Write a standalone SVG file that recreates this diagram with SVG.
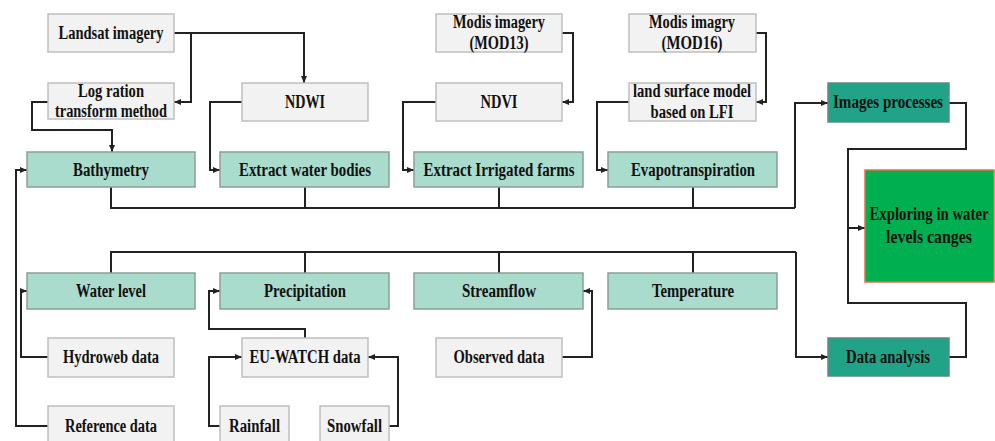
<svg xmlns="http://www.w3.org/2000/svg" width="995" height="441" viewBox="0 0 995 441">
<defs>
<marker id="ah" markerUnits="userSpaceOnUse" markerWidth="8" markerHeight="8" refX="7" refY="4" orient="auto">
<path d="M0,1 L7,4 L0,7 Z" fill="#222"/>
</marker>
<style>
.g{fill:#f2f2f2;stroke:#bfbfbf;stroke-width:1.5}
.t{fill:#a9dccd;stroke:#8a9e98;stroke-width:1.5}
.d{fill:#20a386;stroke:#5f8a7e;stroke-width:1.5}
.x{fill:#00b050;stroke:#e0704a;stroke-width:1.5}
text{font-family:"Liberation Serif","Times New Roman",serif;font-weight:bold;font-size:18px;fill:#111;text-anchor:middle}
.c path{fill:none;stroke:#222;stroke-width:2}
.a{marker-end:url(#ah)}
</style>
</defs>
<rect width="995" height="441" fill="#fff"/>
<g class="c" id="connectors">
<path class="a" d="M174,33 H304 V83"/>
<path class="a" d="M191,33 V102 H174"/>
<path class="a" d="M48,102 H32 V130 H112 V152"/>
<path class="a" d="M242,102 H210 V170 H220"/>
<path class="a" d="M562,33 H573 V102 H562"/>
<path class="a" d="M756,33 H766 V102 H756"/>
<path class="a" d="M436,102 H403 V170 H414"/>
<path class="a" d="M629,102 H597 V170 H608"/>
<path d="M111,187 V208 H795"/>
<path d="M305,187 V208"/>
<path d="M499,187 V208"/>
<path d="M693,187 V208"/>
<path class="a" d="M795,208 V103 H828"/>
<path d="M949,103 H966 V149 H848 V303 H966 V357 H949"/>
<path class="a" d="M848,228 H865"/>
<path d="M111,273 V252 H796"/>
<path d="M305,273 V252"/>
<path d="M499,273 V252"/>
<path d="M693,273 V252"/>
<path class="a" d="M796,252 V357 H828"/>
<path class="a" d="M48,357 H21 V291 H27"/>
<path class="a" d="M48,426 H16 V170 H27"/>
<path class="a" d="M305,338 V329 H209 V291 H220"/>
<path class="a" d="M220,426 H209 V357 H242"/>
<path class="a" d="M389,426 H398 V357 H368"/>
<path class="a" d="M562,357 H592 V291 H583"/>
</g>
<g id="landsat"><rect class="g" x="48" y="14" width="126" height="38"/><text x="111" y="39" textLength="105" lengthAdjust="spacingAndGlyphs">Landsat imagery</text></g>
<g id="logratio"><rect class="g" x="48" y="83" width="126" height="36"/><text x="111" y="97" textLength="66" lengthAdjust="spacingAndGlyphs">Log ration</text><text x="111" y="117" textLength="112" lengthAdjust="spacingAndGlyphs">transform method</text></g>
<g id="ndwi"><rect class="g" x="242" y="83" width="126" height="38"/><text x="305" y="108" textLength="40" lengthAdjust="spacingAndGlyphs">NDWI</text></g>
<g id="mod13"><rect class="g" x="436" y="14" width="126" height="38"/><text x="499" y="28" textLength="92" lengthAdjust="spacingAndGlyphs">Modis imagery</text><text x="499" y="49" textLength="59" lengthAdjust="spacingAndGlyphs">(MOD13)</text></g>
<g id="mod16"><rect class="g" x="629" y="14" width="127" height="38"/><text x="692" y="28" textLength="86" lengthAdjust="spacingAndGlyphs">Modis imagry</text><text x="692" y="49" textLength="61" lengthAdjust="spacingAndGlyphs">(MOD16)</text></g>
<g id="ndvi"><rect class="g" x="436" y="83" width="126" height="38"/><text x="499" y="108" textLength="37" lengthAdjust="spacingAndGlyphs">NDVI</text></g>
<g id="lsm"><rect class="g" x="629" y="83" width="127" height="38"/><text x="692" y="97" textLength="118" lengthAdjust="spacingAndGlyphs">land surface model</text><text x="692" y="118" textLength="83" lengthAdjust="spacingAndGlyphs">based on LFI</text></g>
<g id="bathymetry"><rect class="t" x="27" y="152" width="168" height="35"/><text x="111" y="176" textLength="76" lengthAdjust="spacingAndGlyphs">Bathymetry</text></g>
<g id="waterbodies"><rect class="t" x="220" y="152" width="169" height="35"/><text x="305" y="176" textLength="132" lengthAdjust="spacingAndGlyphs">Extract water bodies</text></g>
<g id="irrigated"><rect class="t" x="414" y="152" width="169" height="35"/><text x="499" y="176" textLength="151" lengthAdjust="spacingAndGlyphs">Extract Irrigated farms</text></g>
<g id="evapo"><rect class="t" x="608" y="152" width="169" height="35"/><text x="693" y="176" textLength="124" lengthAdjust="spacingAndGlyphs">Evapotranspiration</text></g>
<g id="images"><rect class="d" x="828" y="83" width="121" height="39"/><text x="888" y="108" textLength="110" lengthAdjust="spacingAndGlyphs">Images processes</text></g>
<g id="exploring"><rect class="x" x="865" y="170" width="129" height="112"/><g transform="translate(929,0) scale(0.85,1)"><text x="0" y="220" textLength="140" lengthAdjust="spacingAndGlyphs">Exploring in water</text><text x="0" y="243" textLength="101" lengthAdjust="spacingAndGlyphs">levels canges</text></g></g>
<g id="dataanalysis"><rect class="d" x="828" y="338" width="121" height="38"/><text x="888" y="363" textLength="84" lengthAdjust="spacingAndGlyphs">Data analysis</text></g>
<g id="waterlevel"><rect class="t" x="27" y="273" width="168" height="36"/><text x="111" y="297" textLength="70" lengthAdjust="spacingAndGlyphs">Water level</text></g>
<g id="precip"><rect class="t" x="220" y="273" width="169" height="36"/><text x="305" y="297" textLength="82" lengthAdjust="spacingAndGlyphs">Precipitation</text></g>
<g id="streamflow"><rect class="t" x="414" y="273" width="169" height="36"/><text x="499" y="297" textLength="74" lengthAdjust="spacingAndGlyphs">Streamflow</text></g>
<g id="temperature"><rect class="t" x="608" y="273" width="169" height="36"/><text x="693" y="297" textLength="82" lengthAdjust="spacingAndGlyphs">Temperature</text></g>
<g id="hydroweb"><rect class="g" x="48" y="338" width="126" height="39"/><text x="111" y="363" textLength="96" lengthAdjust="spacingAndGlyphs">Hydroweb data</text></g>
<g id="euwatch"><rect class="g" x="242" y="338" width="126" height="39"/><text x="305" y="363" textLength="111" lengthAdjust="spacingAndGlyphs">EU-WATCH data</text></g>
<g id="observed"><rect class="g" x="436" y="338" width="126" height="39"/><text x="499" y="363" textLength="91" lengthAdjust="spacingAndGlyphs">Observed data</text></g>
<g id="reference"><rect class="g" x="48" y="406" width="126" height="40"/><text x="111" y="432" textLength="92" lengthAdjust="spacingAndGlyphs">Reference data</text></g>
<g id="rainfall"><rect class="g" x="220" y="406" width="69" height="40"/><text x="254.5" y="432" textLength="51" lengthAdjust="spacingAndGlyphs">Rainfall</text></g>
<g id="snowfall"><rect class="g" x="320" y="406" width="69" height="40"/><text x="354.5" y="432" textLength="55" lengthAdjust="spacingAndGlyphs">Snowfall</text></g>
</svg>
